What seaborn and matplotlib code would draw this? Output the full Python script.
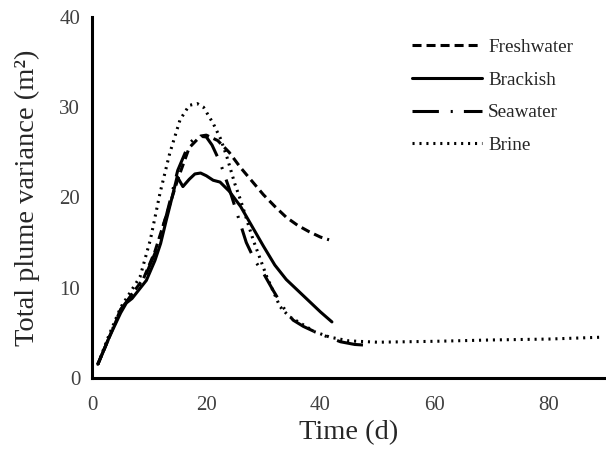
import numpy as np
import pandas as pd
import matplotlib
matplotlib.use("Agg")
import matplotlib.pyplot as plt
import seaborn as sns

# ---- data ----
fresh_x = [1, 3, 5, 7, 9, 11, 13, 15, 17, 19, 20, 22, 24, 26, 28, 30, 32, 34, 36, 38, 40, 41.5]
fresh_y = [1.5, 4.5, 7.5, 9.3, 11, 14, 18, 22, 25.5, 26.8, 26.9, 26.3, 25, 23.3, 21.8, 20.3, 19, 17.8, 16.9, 16.2, 15.6, 15.3]

brack_x = [1, 3, 5, 6, 7, 8, 9.5, 11, 12, 13, 14, 14.9, 15.9, 17, 18, 19, 20, 21.2, 22.4, 24, 26, 28, 30, 32, 34, 36, 38, 40, 42]
brack_y = [1.5, 4.5, 7.2, 8.3, 8.8, 9.6, 10.8, 13, 14.9, 17.5, 20, 22.3, 21.2, 22, 22.6, 22.7, 22.4, 21.9, 21.7, 20.7, 19, 16.8, 14.6, 12.5, 10.9, 9.7, 8.5, 7.3, 6.2]

sea_x = [1, 3, 5, 7, 9, 11, 13, 15, 17, 18.5, 20, 21, 22.4, 24, 25.5, 27, 28.5, 30, 31.7, 33.5, 35.2, 37, 38.7, 41, 43.5, 46, 48.5]
sea_y = [1.5, 4.5, 7.6, 9.2, 10.8, 13.8, 18, 23, 26, 26.8, 26.7, 25.8, 23.9, 21, 18, 15, 13, 11.6, 9.7, 7.8, 6.4, 5.7, 5.2, 4.6, 4.0, 3.7, 3.6]

brine_x = [1, 3, 5, 7, 8.4, 10.2, 11.9, 13.6, 15.4, 17, 18.4, 19.5, 21.2, 22.5, 23.6, 25, 26, 28.2, 30.6, 32.9, 34.5, 36.4, 39, 41.7, 45, 50, 55, 60, 70, 80, 89]
brine_y = [1.5, 4.8, 7.8, 9.8, 11.2, 15.3, 20.5, 24.9, 28.6, 30.2, 30.4, 30, 28.2, 26.5, 24.5, 21.5, 19.7, 15.3, 11.2, 7.9, 6.8, 6.1, 5.1, 4.5, 4.1, 3.95, 4.0, 4.05, 4.2, 4.3, 4.5]

series = ["Freshwater", "Brackish", "Seawater", "Brine"]
x_ticks = [0, 20, 40, 60, 80]
y_ticks = [0, 10, 20, 30, 40]

frames = []
for name, xs, ys in [("Freshwater", fresh_x, fresh_y), ("Brackish", brack_x, brack_y),
                     ("Seawater", sea_x, sea_y), ("Brine", brine_x, brine_y)]:
    frames.append(pd.DataFrame({"Time": xs, "Variance": ys, "Water": name}))
df = pd.concat(frames, ignore_index=True)

sns.set_style("white")
plt.rcParams["font.family"] = ["Liberation Serif", "DejaVu Serif"]
plt.rcParams["lines.scale_dashes"] = False

fig = plt.figure(figsize=(6.06, 4.58), dpi=100)
ax = fig.add_axes([0.152, 0.175, 0.848, 0.788])

dashes = {"Freshwater": (6.5, 3.6), "Brackish": "", "Seawater": (19, 8.5, 1.5, 8), "Brine": (1.5, 3.5)}
palette = {s: "black" for s in series}
sns.lineplot(data=df, x="Time", y="Variance", hue="Water", style="Water",
             hue_order=series, style_order=series, palette=palette, dashes=dashes,
             sort=False, estimator=None, linewidth=2.2, ax=ax)

ax.set_xlim(0, 90)
ax.set_ylim(0, 40)
ax.set_xticks(x_ticks)
ax.set_yticks(y_ticks)
ax.tick_params(axis="both", direction="out", length=5, width=2, labelsize=15,
               colors="black", labelcolor="#404040")
ax.tick_params(axis="x", pad=8)
for side in ["top", "right"]:
    ax.spines[side].set_visible(False)
for side in ["left", "bottom"]:
    ax.spines[side].set_linewidth(2.2)
    ax.spines[side].set_color("black")

ax.set_xlabel("Time (d)", fontsize=20.5, color="#262626", labelpad=3.5)
ax.set_ylabel("Total plume variance (m²)", fontsize=20.5, color="#262626", labelpad=14)

leg = ax.legend(loc="upper left", bbox_to_anchor=(0.668, 0.933), bbox_transform=fig.transFigure,
                borderaxespad=0, frameon=False,
                fontsize=13.8, handlelength=3.65, handletextpad=0.3, labelspacing=0.8)
for line in leg.get_lines():
    line.set_linewidth(2.2)

fig.savefig("out.png", dpi=100)
